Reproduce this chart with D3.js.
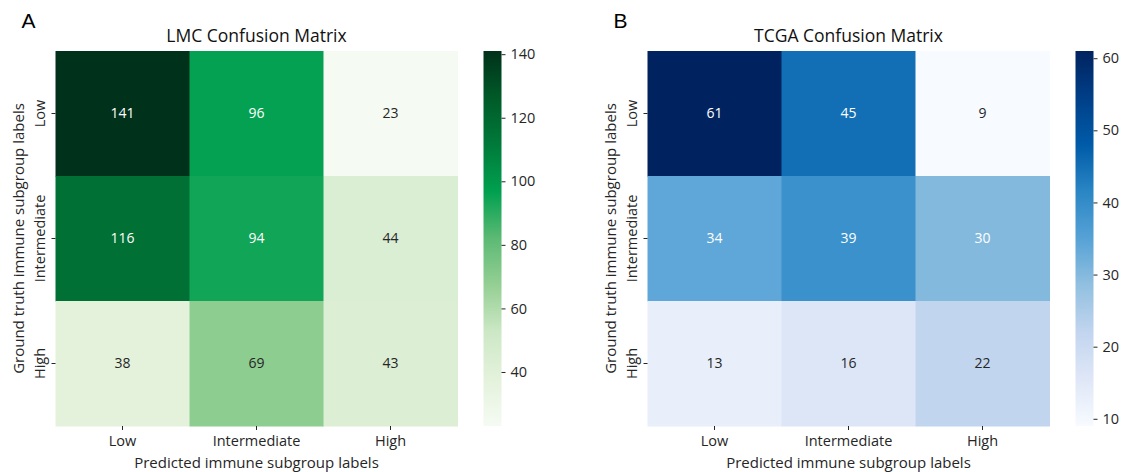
<!DOCTYPE html>
<html>
<head>
<meta charset="utf-8">
<script src="https://cdn.jsdelivr.net/npm/d3@7"></script>
<style>
  body { margin: 0; background: #fff; }
  svg { font-family: "Open Sans", sans-serif; }
</style>
</head>
<body>
<svg id="chart" width="1126" height="472"></svg>
<script>
// categories
const classes = ['Low', 'Intermediate', 'High'];

// confusion matrices, rows = ground truth, cols = predicted
const lmcMatrix = [
    [141, 96, 23],
    [116, 94, 44],
    [38, 69, 43]
];
const tcgaMatrix = [
    [61, 45, 9],
    [34, 39, 30],
    [13, 16, 22]
];

const lmcTicks = [40, 60, 80, 100, 120, 140];
const tcgaTicks = [10, 20, 30, 40, 50, 60];

// colour ramps (Greens / Blues, as they look in the figure)
const greens = ['#f5fbf3', '#e4f2dc', '#cde8c6', '#95cf94', '#5cba74', '#00a050', '#007a3a', '#005a28', '#00311a'];
const blues = ['#f7fbff', '#dfe7f7', '#c2d5ef', '#92c0e0', '#56a2d6', '#2a86c4', '#005ba8', '#003f88', '#00235f'];

const svg = d3.select('#chart');
const textColor = '#262626';
const font = '"Open Sans", sans-serif';

function luminance(c) {
    const rgb = d3.rgb(c);
    const lin = v => { v /= 255; return v <= 0.03928 ? v / 12.92 : Math.pow((v + 0.055) / 1.055, 2.4); };
    return 0.2126 * lin(rgb.r) + 0.7152 * lin(rgb.g) + 0.0722 * lin(rgb.b);
}

function drawPanel(cfg) {
    const { left, top, width, height, matrix, ramp, ticks, title, letter } = cfg;
    const flat = matrix.flat();
    const vmin = d3.min(flat), vmax = d3.max(flat);

    const color = d3.scaleLinear()
        .domain(ramp.map((_, i) => vmin + (vmax - vmin) * i / (ramp.length - 1)))
        .range(ramp)
        .interpolate(d3.interpolateRgb);

    const x = d3.scaleBand().domain(classes).range([left, left + width]);
    const y = d3.scaleBand().domain(classes).range([top, top + height]);

    const g = svg.append('g');

    // cells
    matrix.forEach((row, ri) => {
        row.forEach((v, ci) => {
            g.append('rect')
                .attr('x', x(classes[ci]))
                .attr('y', y(classes[ri]))
                .attr('width', x.bandwidth() + 0.5)
                .attr('height', y.bandwidth() + 0.5)
                .attr('fill', color(v));
            g.append('text')
                .attr('x', x(classes[ci]) + x.bandwidth() / 2)
                .attr('y', y(classes[ri]) + y.bandwidth() / 2)
                .attr('dy', '0.35em')
                .attr('text-anchor', 'middle')
                .attr('font-size', 14)
                .attr('fill', luminance(color(v)) < 0.49 ? '#ffffff' : textColor)
                .text(v);
        });
    });

    // axes
    const xAxis = g.append('g')
        .attr('transform', `translate(0,${top + height})`)
        .call(d3.axisBottom(x).tickSize(4).tickPadding(6));
    const yAxis = g.append('g')
        .attr('transform', `translate(${left},0)`)
        .call(d3.axisLeft(y).tickSize(4).tickPadding(4));
    [xAxis, yAxis].forEach(a => {
        a.select('.domain').remove();
        a.selectAll('line').attr('stroke', textColor);
        a.selectAll('text').attr('font-size', 14.5).attr('fill', textColor)
            .attr('font-family', font);
    });
    yAxis.selectAll('text')
        .attr('text-anchor', 'middle')
        .attr('dy', 0)
        .attr('x', 0)
        .attr('transform', 'translate(-11,0) rotate(-90)');

    // labels
    g.append('text')
        .attr('x', left + width / 2)
        .attr('y', top - 9)
        .attr('text-anchor', 'middle')
        .attr('font-size', 17.5)
        .attr('fill', '#111')
        .text(title);
    g.append('text')
        .attr('x', left + width / 2)
        .attr('y', top + height + 42)
        .attr('text-anchor', 'middle')
        .attr('font-size', 15)
        .attr('fill', textColor)
        .text('Predicted immune subgroup labels');
    g.append('text')
        .attr('transform', `translate(${left - 32},${top + height / 2}) rotate(-90)`)
        .attr('text-anchor', 'middle')
        .attr('font-size', 15)
        .attr('fill', textColor)
        .text('Ground truth immune subgroup labels');
    g.append('text')
        .attr('x', left - 34)
        .attr('y', top - 23)
        .attr('font-size', 21)
        .attr('font-family', '"Liberation Sans", Arial, sans-serif')
        .attr('fill', '#000')
        .text(letter);

    // colorbar
    const cbX = left + width + 26, cbW = 18;
    const cb = d3.scaleLinear().domain([vmin, vmax]).range([top + height, top]);
    const gradId = 'grad-' + letter;
    const grad = svg.append('defs').append('linearGradient')
        .attr('id', gradId).attr('x1', 0).attr('y1', 1).attr('x2', 0).attr('y2', 0);
    ramp.forEach((c, i) => {
        grad.append('stop').attr('offset', i / (ramp.length - 1)).attr('stop-color', c);
    });
    g.append('rect')
        .attr('x', cbX).attr('y', top)
        .attr('width', cbW).attr('height', height)
        .attr('fill', `url(#${gradId})`);
    const cAxis = g.append('g')
        .attr('transform', `translate(${cbX + cbW},0)`)
        .call(d3.axisRight(cb).tickValues(ticks).tickSize(4).tickPadding(5));
    cAxis.select('.domain').remove();
    cAxis.selectAll('line').attr('stroke', textColor);
    cAxis.selectAll('text').attr('font-size', 14.5).attr('fill', textColor)
        .attr('font-family', font);
}

drawPanel({
    left: 55.5, top: 51, width: 402, height: 375,
    matrix: lmcMatrix, ramp: greens, ticks: lmcTicks,
    title: 'LMC Confusion Matrix', letter: 'A'
});
drawPanel({
    left: 647.5, top: 51, width: 402, height: 375,
    matrix: tcgaMatrix, ramp: blues, ticks: tcgaTicks,
    title: 'TCGA Confusion Matrix', letter: 'B'
});
</script>
</body>
</html>
